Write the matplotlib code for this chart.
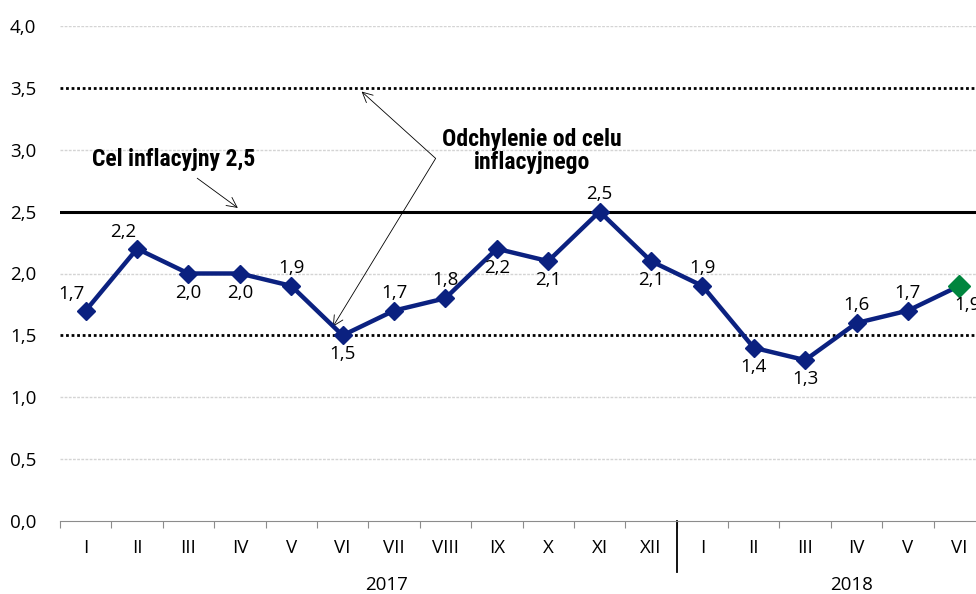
import matplotlib
matplotlib.use('Agg')
import matplotlib.pyplot as plt
import numpy as np

# data
months = ['I', 'II', 'III', 'IV', 'V', 'VI', 'VII', 'VIII', 'IX', 'X', 'XI', 'XII',
          'I', 'II', 'III', 'IV', 'V', 'VI']
cpi = [1.7, 2.2, 2.0, 2.0, 1.9, 1.5, 1.7, 1.8, 2.2, 2.1, 2.5, 2.1,
       1.9, 1.4, 1.3, 1.6, 1.7, 1.9]
label_pos = ['ul', 'ul', 'b', 'b', 'a', 'b', 'a', 'a', 'b', 'b', 'a', 'b',
             'a', 'b', 'b', 'a', 'a', 'br']
years = ['2017', '2018']
year_x = [5.85, 14.9]
target = 2.5
band = [1.5, 3.5]

plt.rcParams['font.family'] = ['Open Sans', 'DejaVu Sans']

fig = plt.figure(figsize=(9.76, 5.94), dpi=100)
ax = fig.add_axes([60 / 976, 1 - 521 / 594, 925 / 976, 495 / 594])

x = np.arange(len(cpi))
ax.set_xlim(-0.5, 17.5)
ax.set_ylim(0, 4.0)

# grid
for g in [0.5, 1.0, 2.0, 3.0, 4.0]:
    ax.axhline(g, color='#d4d4d4', lw=1, ls=(0, (2, 1)), zorder=1)
for b in band:
    ax.axhline(b, color='black', lw=2, ls=(0, (1, 1)), zorder=2)
ax.axhline(target, color='black', lw=2.2, zorder=2)

ax.plot(x[:-1], cpi[:-1], color='#0b2180', lw=3.2, marker='D', ms=9,
        zorder=4, solid_joinstyle='miter')
ax.plot(x[-2:], cpi[-2:], color='#0b2180', lw=3.2, zorder=3)
ax.plot(x[-1], cpi[-1], marker='D', ms=11, color='#00853e', ls='none', zorder=5)

offsets = {'a': (0, 18), 'b': (0, -19), 'ul': (-14, 17), 'br': (8, -19)}
for xi, v, p in zip(x, cpi, label_pos):
    dx, dy = offsets[p]
    ax.annotate(f'{v:.1f}'.replace('.', ','), (xi, v), xytext=(dx, dy),
                textcoords='offset pixels', ha='center', va='center',
                fontsize=13.5, color='black', zorder=6)

# axes styling
for s in ['left', 'right', 'top']:
    ax.spines[s].set_visible(False)
ax.spines['bottom'].set_color('#8c8c8c')
ax.set_yticks(np.arange(0, 4.01, 0.5))
ax.set_yticklabels([f'{t:.1f}'.replace('.', ',') for t in np.arange(0, 4.01, 0.5)],
                   fontsize=13.5, color='black')
ax.tick_params(axis='y', length=0, pad=17)
ax.set_xticks(np.arange(-0.5, 17.6, 1))
ax.set_xticklabels([])
ax.tick_params(axis='x', which='major', length=5, color='#8c8c8c', direction='out')
ax.set_xticks(x, minor=True)
ax.set_xticklabels(months, minor=True, fontsize=13.5, color='black')
ax.tick_params(axis='x', which='minor', length=0, pad=13)

ax.plot([11.5, 11.5], [0, -0.41], color='black', lw=1.3, clip_on=False)
for yl, yx in zip(years, year_x):
    ax.text(yx, -0.129, yl, transform=ax.get_xaxis_transform(), ha='center',
            va='center', fontsize=13.5, color='black')

# annotations
bold_font = ['Roboto Condensed', 'Roboto', 'DejaVu Sans']
arrow = dict(arrowstyle='->', color='black', lw=0.6, shrinkA=0, shrinkB=0,
             mutation_scale=18)
ax.text(1.72, 2.925, 'Cel inflacyjny 2,5', ha='center', va='center',
        fontsize=17, fontweight='bold', family=bold_font)
ax.annotate('', xy=(2.96, 2.53), xytext=(2.17, 2.77), arrowprops=arrow)
ax.text(8.68, 2.99, 'Odchylenie od celu\ninflacyjnego', ha='center', va='center',
        fontsize=17, fontweight='bold', family=bold_font, linespacing=1.05)
ax.annotate('', xy=(5.37, 3.47), xytext=(6.81, 2.93), arrowprops=arrow)
ax.annotate('', xy=(4.81, 1.57), xytext=(6.81, 2.93), arrowprops=arrow)

fig.savefig('out.png', dpi=100)
